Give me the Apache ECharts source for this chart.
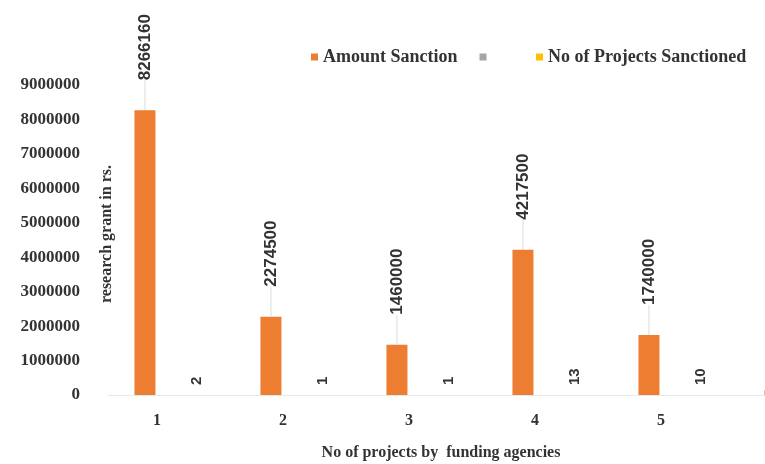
<!DOCTYPE html>
<html>
<head>
<meta charset="utf-8">
<script src="https://cdn.jsdelivr.net/npm/echarts@6/dist/echarts.min.js"></script>
<style>
html, body { margin: 0; padding: 0; background: #fff; }
#grantChart { width: 765px; height: 464px; }
</style>
</head>
<body>
<div id="grantChart"></div>
<script>
const categories = ['1', '2', '3', '4', '5', '6'];
const amountSanction = [8266160, 2274500, 1460000, 4217500, 1740000, 130000];
const blankSeries = [null, null, null, null, null, null];
const projectsSanctioned = [2, 1, 1, 13, 10, null];
const yTicks = [0, 1000000, 2000000, 3000000, 4000000, 5000000, 6000000, 7000000, 8000000, 9000000];

const serif = '"Liberation Serif", "DejaVu Serif", serif';
const sans = '"Liberation Sans", Arial, sans-serif';

let myChart = echarts.init(document.getElementById('grantChart'));
const option = {
    backgroundColor: '#fff',
    animation: false,
    legend: {
        left: 306,
        top: 43,
        icon: 'rect',
        itemWidth: 7,
        itemHeight: 7,
        itemGap: 22,
        textStyle: {
            fontFamily: serif,
            fontWeight: 'bold',
            fontSize: 18,
            color: '#333'
        },
        data: ['Amount Sanction', '     ', 'No of Projects Sanctioned']
    },
    grid: {
        left: 108,
        top: 85,
        width: 756,
        bottom: 69,
        containLabel: false,
        outerBoundsMode: 'none'
    },
    xAxis: {
        type: 'category',
        data: categories,
        axisTick: { show: false },
        axisLine: {
            lineStyle: { color: '#e8e8e8' }
        },
        axisLabel: {
            margin: 18,
            padding: [0, 28, 0, 0],
            fontFamily: serif,
            fontWeight: 'bold',
            fontSize: 16,
            color: '#333'
        },
        name: 'No of projects by  funding agencies',
        nameLocation: 'middle',
        nameGap: 50,
        nameTextStyle: {
            fontFamily: serif,
            fontWeight: 'bold',
            fontSize: 16,
            color: '#333',
            padding: [0, 90, 0, 0]
        }
    },
    yAxis: {
        type: 'value',
        min: yTicks[0],
        max: yTicks[yTicks.length - 1],
        interval: yTicks[1] - yTicks[0],
        axisLine: { show: false },
        axisTick: { show: false },
        splitLine: { show: false },
        axisLabel: {
            margin: 28,
            fontFamily: serif,
            fontWeight: 'bold',
            fontSize: 17,
            color: '#333',
            formatter: function (v) { return String(v); }
        },
        name: 'research grant in rs.',
        nameLocation: 'middle',
        nameGap: -7,
        nameMoveOverlap: false,
        nameTextStyle: {
            fontFamily: serif,
            fontWeight: 'bold',
            fontSize: 16,
            color: '#333',
            padding: [0, 0, 0, 12]
        }
    },
    series: [
        {
            name: 'Amount Sanction',
            type: 'bar',
            barWidth: 21,
            barGap: '24%',
            itemStyle: { color: '#ED7D31' },
            label: {
                show: true,
                position: 'top',
                rotate: 90,
                align: 'left',
                verticalAlign: 'middle',
                distance: 4,
                fontFamily: sans,
                fontWeight: 'bold',
                fontSize: 17,
                color: '#333'
            },
            // 标签是旋转的，dx 在旋转后的方向上（向上）
            labelLayout: { dx: 26 },
            labelLine: {
                show: true,
                length2: 0,
                lineStyle: { color: '#dcdcdc', width: 1 }
            },
            data: amountSanction
        },
        {
            name: '     ',
            type: 'bar',
            barWidth: 21,
            itemStyle: { color: '#A5A5A5' },
            data: blankSeries
        },
        {
            name: 'No of Projects Sanctioned',
            type: 'bar',
            barWidth: 21,
            itemStyle: { color: '#FFC000' },
            label: {
                show: true,
                position: 'top',
                rotate: 90,
                align: 'left',
                verticalAlign: 'middle',
                distance: 10,
                fontFamily: sans,
                fontWeight: 'bold',
                fontSize: 15,
                color: '#333'
            },
            data: projectsSanctioned
        }
    ]
};
myChart.setOption(option);
</script>
</body>
</html>
